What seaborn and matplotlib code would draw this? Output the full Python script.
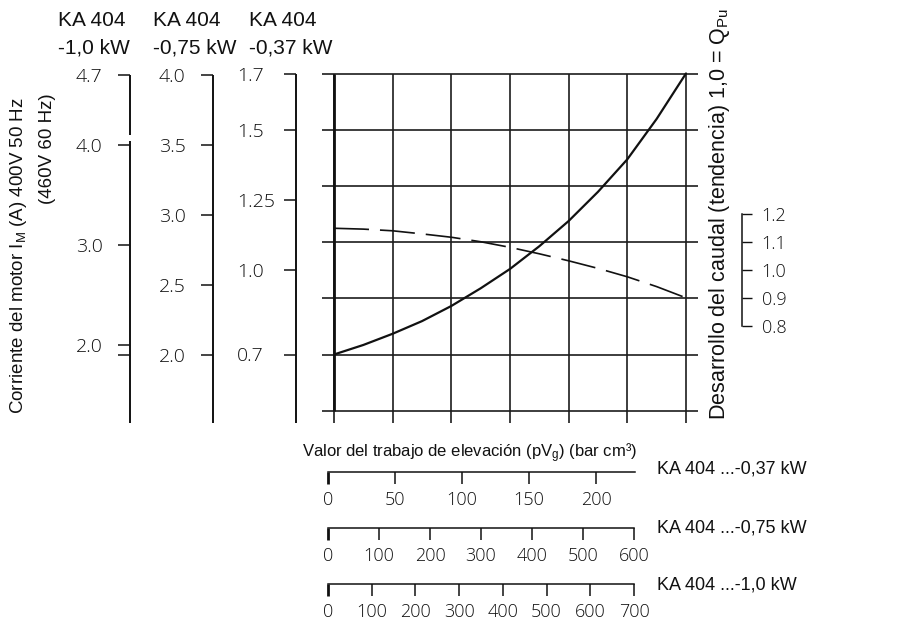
import matplotlib
matplotlib.use("Agg")
import matplotlib.pyplot as plt
import matplotlib.transforms as mtransforms
import pandas as pd
import seaborn as sns

# ---------------- data ----------------
load_steps = [0, 0.5, 1, 1.5, 2, 2.5, 3, 3.5, 4, 4.5, 5, 5.5, 6]
motor_current_037 = [0.700, 0.734, 0.774, 0.819, 0.873, 0.936, 1.005, 1.086,
                     1.176, 1.280, 1.396, 1.540, 1.702]
flow_trend = [1.150, 1.147, 1.141, 1.130, 1.118, 1.102, 1.082, 1.059,
              1.034, 1.007, 0.977, 0.942, 0.902]

grid_cols = [0, 1, 2, 3, 4, 5, 6]
grid_rows = [0.5, 0.7, 0.9, 1.1, 1.3, 1.5, 1.7]

cur_10_ticks = [4.7, 4.0, 3.0, 2.0, 1.9]
cur_10_labels = ["4.7", "4.0", "3.0", "2.0", ""]
cur_075_ticks = [4.0, 3.5, 3.0, 2.5, 2.0]
cur_075_labels = ["4.0", "3.5", "3.0", "2.5", "2.0"]
cur_037_ticks = [1.7, 1.5, 1.25, 1.0, 0.7]
cur_037_labels = ["1.7", "1.5", "1.25", "1.0", "0.7"]
flow_ticks = [1.2, 1.1, 1.0, 0.9, 0.8]
flow_labels = ["1.2", "1.1", "1.0", "0.9", "0.8"]

pv_037_ticks = [0, 50, 100, 150, 200]
pv_075_ticks = [0, 100, 200, 300, 400, 500, 600]
pv_10_ticks = [0, 100, 200, 300, 400, 500, 600, 700]
pv_037_max = 229
pv_075_max = 600
pv_10_max = 700

top_models = [("KA 404", "-1,0 kW"), ("KA 404", "-0,75 kW"), ("KA 404", "-0,37 kW")]
bottom_models = ["KA 404 ...-0,37 kW", "KA 404 ...-0,75 kW", "KA 404 ...-1,0 kW"]

# ---------------- style ----------------
sns.set_theme(style="white")
plt.rcParams["font.family"] = ["Liberation Sans", "DejaVu Sans"]
plt.rcParams["mathtext.default"] = "regular"
INK = "#111111"
GRID = "#1c1c1c"
NUMFONT = ["Open Sans", "Lato", "DejaVu Sans"]
NUMWEIGHT = "light"

W, H = 920, 623
fig = plt.figure(figsize=(W / 100, H / 100), dpi=100)
fig.patch.set_facecolor("white")


def rect(x0, y0, x1, y1):
    return [x0 / W, 1 - y1 / H, (x1 - x0) / W, (y1 - y0) / H]


def val_at(px, ref_val, ref_px, pxu):
    return ref_val - (px - ref_px) / pxu


PXU = 280.5          # pixels per unit on the 0.37 kW / flow scale
COLPX = 58.67        # pixels per grid column

# ---------------- main chart ----------------
ax = fig.add_axes(rect(322, 70, 698, 423))
ybot = val_at(423, 1.7, 74, PXU)
ytop = val_at(70, 1.7, 74, PXU)
for r in grid_rows:
    ax.axhline(r, color=GRID, lw=1.2, zorder=1)
ax.vlines(grid_cols, ybot, 1.7, color=GRID, lw=1.2, zorder=1)
ax.vlines([grid_cols[0]], 0.5, 1.7, color=INK, lw=2.0, zorder=2)

df = pd.DataFrame({"load": load_steps, "current": motor_current_037, "flow": flow_trend})
sns.lineplot(data=df, x="load", y="current", ax=ax, color=INK, lw=1.6, zorder=3)
sns.lineplot(data=df, x="load", y="flow", ax=ax, color=INK, lw=1.2, zorder=3,
             linestyle=(0, (21.0, 6.6)))
ax.axis("off")
ax.set_xlim(-12 / COLPX, 6 + 12 / COLPX)
ax.set_ylim(ybot, ytop)


# ---------------- left current scales ----------------
def left_scale(xpx, top_val, top_px, pxu, ticks, labels, label_x, gap=None):
    a = fig.add_axes(rect(xpx, 60, xpx + 20, 423))
    lo = val_at(423, top_val, top_px, pxu)
    a.set_ylim(lo, val_at(60, top_val, top_px, pxu))
    a.set_xlim(0, 1)
    a.patch.set_alpha(0)
    for s in ["top", "right", "bottom", "left"]:
        a.spines[s].set_visible(False)
    if gap is None:
        a.vlines([0], lo, top_val, color=INK, lw=1.4, clip_on=False)
    else:
        a.vlines([0, 0], [lo, gap[1]], [gap[0], top_val], color=INK, lw=1.4, clip_on=False)
    a.set_xticks([])
    a.set_yticks(ticks)
    a.set_yticklabels([])
    a.tick_params(axis="y", direction="out", length=8.6, width=1.1, color=INK, left=True)
    tr = mtransforms.blended_transform_factory(fig.transFigure, a.transData)
    for t, lab in zip(ticks, labels):
        a.text(label_x / W, t - 7 / pxu, lab, transform=tr, ha="left", va="baseline",
               fontsize=14, family=NUMFONT, fontweight=NUMWEIGHT, color=INK)
    return a


left_scale(130, 4.7, 75, 100.0, cur_10_ticks, cur_10_labels, 76, gap=(4.0 + 4 / 100, 4.0 + 10 / 100))
left_scale(213, 4.0, 75, 140.0, cur_075_ticks, cur_075_labels, 159)
left_scale(296, 1.7, 74, PXU, cur_037_ticks, cur_037_labels, 237)

# ---------------- right flow bracket ----------------
fa = fig.add_axes(rect(722, 70, 742, 423))
fa.set_ylim(ybot, ytop)
fa.patch.set_alpha(0)
for s in ["top", "left", "bottom"]:
    fa.spines[s].set_visible(False)
fa.spines["right"].set_color(INK)
fa.spines["right"].set_linewidth(1.1)
fa.spines["right"].set_bounds(flow_ticks[-1], flow_ticks[0])
fa.set_xticks([])
fa.yaxis.tick_right()
fa.set_yticks(flow_ticks)
fa.set_yticklabels(flow_labels, family=NUMFONT, fontweight=NUMWEIGHT, fontsize=13, color=INK)
fa.tick_params(axis="y", direction="out", length=7.2, width=1.0, color=INK, pad=7, right=True)


# ---------------- bottom pV scales ----------------
def bottom_scale(x0, x1, ypx, xmax, ticks):
    a = fig.add_axes(rect(x0, ypx - 10, x1, ypx))
    a.set_xlim(0, xmax)
    a.patch.set_alpha(0)
    for s in ["top", "left", "right"]:
        a.spines[s].set_visible(False)
    a.spines["bottom"].set_color(INK)
    a.spines["bottom"].set_linewidth(1.1)
    a.set_yticks([])
    a.set_xticks(ticks)
    a.set_xticklabels([str(t) for t in ticks], family=NUMFONT, fontweight=NUMWEIGHT,
                      fontsize=13, color=INK)
    a.tick_params(axis="x", direction="out", length=8.6, width=1.1, color=INK, pad=5, bottom=True)
    a.xaxis.get_major_ticks()[0].tick1line.set_markeredgewidth(2.0)
    return a


bottom_scale(328, 635, 471.7, pv_037_max, pv_037_ticks)
bottom_scale(328, 634, 527.7, pv_075_max, pv_075_ticks)
bottom_scale(328, 634, 584.3, pv_10_max, pv_10_ticks)

# ---------------- texts ----------------
for xpx, (l1, l2) in zip([58, 153, 249], top_models):
    fig.text(xpx / W, 1 - 26 / H, l1, ha="left", va="baseline", fontsize=15, color=INK)
    fig.text(xpx / W, 1 - 53 / H, l2, ha="left", va="baseline", fontsize=15, color=INK)

for ypx, lab in zip([474, 532.7, 589.3], bottom_models):
    fig.text(657 / W, 1 - ypx / H, lab, ha="left", va="baseline", fontsize=13, color=INK)

fig.text(302 / W, 1 - 457 / H, "Valor del trabajo de elevación (pV$_{g}$) (bar cm³)",
         ha="left", va="baseline", fontsize=12, color=INK)

fig.text(19 / W, 1 - 97 / H, "Corriente del motor I$_{M}$ (A) 400V 50 Hz",
         rotation=90, ha="center", va="top", fontsize=13.5, color=INK)
fig.text(48 / W, 1 - 93 / H, "(460V 60 Hz)",
         rotation=90, ha="center", va="top", fontsize=13.5, color=INK)

fig.text(720 / W, 1 - 213.5 / H, "Desarrollo del caudal (tendencia) 1,0 = Q$_{Pu}$",
         rotation=90, ha="center", va="center", fontsize=15.5, color=INK)

fig.savefig("out.png", dpi=100, facecolor="white")
